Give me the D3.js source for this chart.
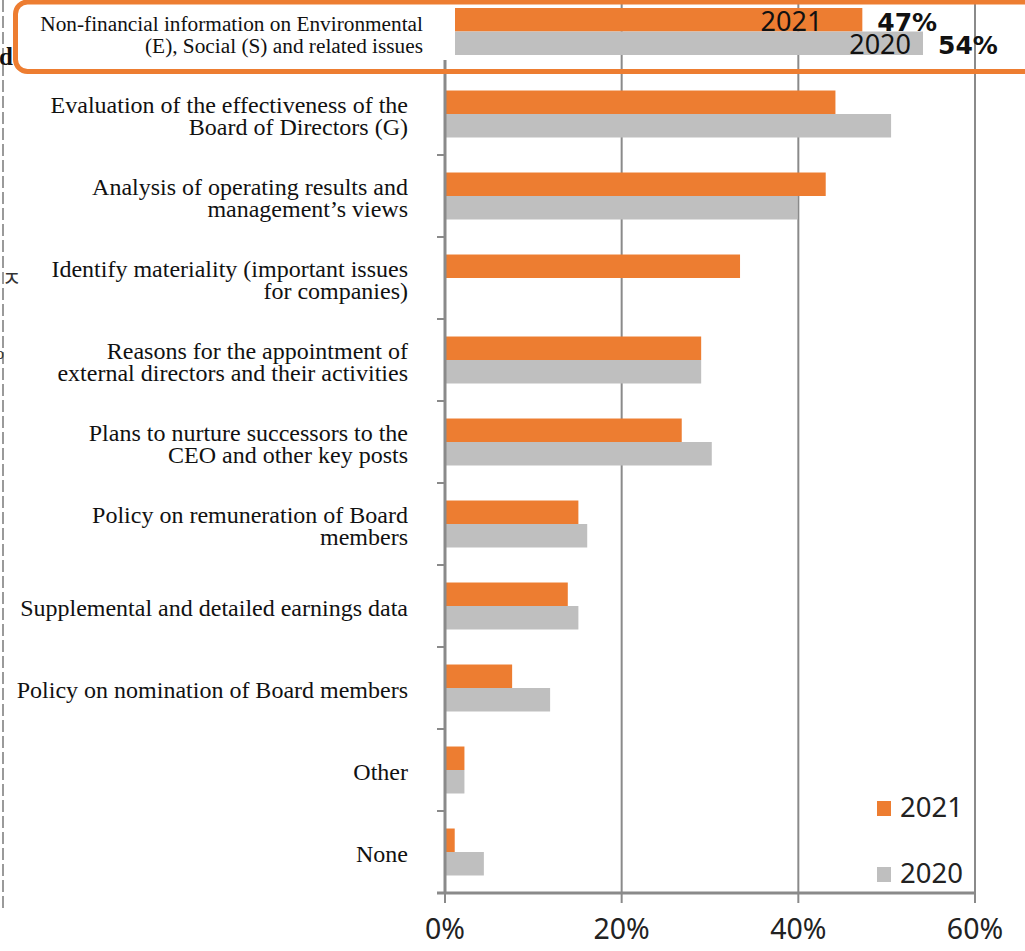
<!DOCTYPE html>
<html>
<head>
<meta charset="utf-8">
<script src="https://cdn.jsdelivr.net/npm/d3@7"></script>
<style>
  html, body { margin: 0; padding: 0; background: #fff; }
  svg { display: block; }
</style>
</head>
<body>
<svg id="chart" width="1025" height="951"></svg>
<script>
// Disclosure items (top to bottom); line breaks split the axis labels
const categories = [
  "Non-financial information on Environmental\n(E), Social (S) and related issues",
  "Evaluation of the effectiveness of the\nBoard of Directors (G)",
  "Analysis of operating results and\nmanagement\u2019s views",
  "Identify materiality (important issues\nfor companies)",
  "Reasons for the appointment of\nexternal directors and their activities",
  "Plans to nurture successors to the\nCEO and other key posts",
  "Policy on remuneration of Board\nmembers",
  "Supplemental and detailed earnings data",
  "Policy on nomination of Board members",
  "Other",
  "None"
];
const series = ["2021", "2020"];
const values2021 = [47, 44.2, 43.1, 33.4, 29.0, 26.8, 15.1, 13.9, 7.6, 2.2, 1.1];
const values2020 = [54, 50.5, 39.9, null, 29.0, 30.2, 16.1, 15.1, 11.9, 2.2, 4.4];
const xTicks = [0, 20, 40, 60];
const xTickLabels = ["0%", "20%", "40%", "60%"];
const highlightIndex = 0;

const colors = { "2021": "#ED7D31", "2020": "#BFBFBF" };
const gridColor = "#8a8a8a";

const svg = d3.select("#chart");

// Scales for the main chart
const x = d3.scaleLinear().domain([0, 60]).range([445, 975]);
const y = d3.scaleBand().domain(categories).range([-9, 893])
  .paddingInner(0.427).paddingOuter(0.2135);
const ySeries = d3.scaleBand().domain(series).range([0, y.bandwidth()]);

// Scales for the enlarged highlighted row
const xTop = d3.scaleLinear().domain([0, 60]).range([455, 975]);
const yTop = d3.scaleBand().domain(series).range([8, 55]);

const rows = categories.map((c, i) => ({
  cat: c, i,
  vals: [{ s: "2021", v: values2021[i] }, { s: "2020", v: values2020[i] }]
}));

// White panel of the callout box (stroke drawn last)
const box = { x: 15.5, y: 2, w: 1030, h: 69.5 };
svg.append("rect").attr("x", box.x).attr("y", box.y)
  .attr("width", box.w).attr("height", box.h).attr("rx", 12)
  .attr("fill", "#fff");

// Dashed rule at the far left
svg.append("line").attr("x1", 3).attr("x2", 3).attr("y1", 0).attr("y2", 911)
  .attr("stroke", "#9a9a9a").attr("stroke-width", 2).attr("stroke-dasharray", "12,4");

// Stray glyphs of neighbouring text at the left edge
svg.append("text").attr("x", -1).attr("y", 65)
  .attr("font-family", "'Liberation Serif', serif").attr("font-weight", "bold")
  .attr("font-size", 25).attr("fill", "#111").text("d");
svg.append("text").attr("x", 2).attr("y", 286)
  .attr("font-family", "'Noto Sans CJK KR', sans-serif")
  .attr("font-size", 21).attr("fill", "#333").text("\u3148");
svg.append("text").attr("x", -4).attr("y", 359)
  .attr("font-family", "'Liberation Serif', serif")
  .attr("font-size", 16).attr("fill", "#333").text("o");

// Vertical gridlines
svg.append("g").selectAll("line").data(xTicks.filter(t => t > 0)).join("line")
  .attr("x1", d => x(d)).attr("x2", d => x(d))
  .attr("y1", 0).attr("y2", 893)
  .attr("stroke", gridColor).attr("stroke-width", 2);

// Main bars (every row except the highlighted one)
const main = svg.append("g");
rows.filter(r => r.i !== highlightIndex).forEach(r => {
  main.selectAll(null).data(r.vals.filter(d => d.v != null)).join("rect")
    .attr("x", x(0))
    .attr("y", d => y(r.cat) + ySeries(d.s))
    .attr("width", d => x(d.v) - x(0))
    .attr("height", ySeries.bandwidth())
    .attr("fill", d => colors[d.s]);
});

// Category axis line and ticks between bands
const step = y.step();
const bounds = categories.map(c => y(c) - y.paddingInner() * step / 2 + step)
  .filter(b => b > 80 && b < 890);
svg.append("line").attr("x1", x(0)).attr("x2", x(0)).attr("y1", 60).attr("y2", 893)
  .attr("stroke", gridColor).attr("stroke-width", 3);
svg.append("g").selectAll("line").data(bounds).join("line")
  .attr("x1", 437).attr("x2", x(0)).attr("y1", d => d).attr("y2", d => d)
  .attr("stroke", gridColor).attr("stroke-width", 2);

// Value axis
const xAxis = svg.append("g").attr("transform", "translate(0,893)");
xAxis.append("line").attr("x1", 437).attr("x2", x(60)).attr("y1", 0).attr("y2", 0)
  .attr("stroke", gridColor).attr("stroke-width", 3);
xAxis.selectAll("line.tick").data(xTicks).join("line").attr("class", "tick")
  .attr("x1", d => x(d)).attr("x2", d => x(d)).attr("y1", 0).attr("y2", 10)
  .attr("stroke", gridColor).attr("stroke-width", 2);
xAxis.selectAll("text").data(xTicks).join("text")
  .attr("x", d => x(d)).attr("y", 46)
  .attr("text-anchor", "middle")
  .attr("font-family", "'Noto Sans', sans-serif").attr("font-size", 28.5)
  .attr("fill", "#222")
  .text((d, i) => xTickLabels[i]);

// Category labels
const labelFont = "'Liberation Serif', 'Times New Roman', serif";
rows.filter(r => r.i !== highlightIndex).forEach(r => {
  const lines = r.cat.split("\n");
  const lh = 22;
  const cy = y(r.cat) + y.bandwidth() / 2 + 2;
  const t = svg.append("text")
    .attr("text-anchor", "end")
    .attr("font-family", labelFont).attr("font-size", 24).attr("fill", "#111");
  lines.forEach((ln, k) => {
    t.append("tspan").attr("x", 408)
      .attr("y", cy + (k - (lines.length - 1) / 2) * lh + 8)
      .text(ln);
  });
});

// Legend
const legend = svg.append("g");
series.forEach((s, k) => {
  const ly = 817 + k * 66;
  legend.append("rect").attr("x", 877).attr("y", ly - 16).attr("width", 14).attr("height", 15)
    .attr("fill", colors[s]);
  legend.append("text").attr("x", 900).attr("y", ly)
    .attr("font-family", "'Noto Sans', sans-serif").attr("font-size", 27.5)
    .attr("fill", "#222").text(s);
});

// Highlighted row inside the callout
const hr = rows[highlightIndex];
svg.append("g").selectAll("rect").data(hr.vals).join("rect")
  .attr("x", xTop(0))
  .attr("y", d => yTop(d.s))
  .attr("width", d => xTop(d.v) - xTop(0))
  .attr("height", yTop.bandwidth())
  .attr("fill", d => colors[d.s]);

const yearInset = { "2021": 40, "2020": 12 };
svg.append("g").selectAll("text").data(hr.vals).join("text")
  .attr("x", d => xTop(d.v) - yearInset[d.s])
  .attr("y", d => yTop(d.s) + yTop.bandwidth() - 1)
  .attr("text-anchor", "end")
  .attr("font-family", "'Noto Sans', sans-serif").attr("font-size", 27)
  .attr("fill", "#111").text(d => d.s);

svg.append("g").selectAll("text").data(hr.vals).join("text")
  .attr("x", d => xTop(d.v) + 15)
  .attr("y", d => yTop(d.s) + yTop.bandwidth() - 1)
  .attr("font-family", "'DejaVu Sans', Verdana, sans-serif").attr("font-weight", "bold")
  .attr("font-size", 25).attr("fill", "#111").text(d => d.v + "%");

{
  const lines = hr.cat.split("\n");
  const t = svg.append("text").attr("text-anchor", "end")
    .attr("font-family", labelFont).attr("font-size", 21.3).attr("fill", "#111");
  lines.forEach((ln, k) => {
    t.append("tspan").attr("x", 423).attr("y", 31 + k * 22).text(ln);
  });
}

// Callout border
svg.append("rect").attr("x", box.x).attr("y", box.y)
  .attr("width", box.w).attr("height", box.h).attr("rx", 12)
  .attr("fill", "none").attr("stroke", "#ED7D31").attr("stroke-width", 5);
</script>
</body>
</html>
